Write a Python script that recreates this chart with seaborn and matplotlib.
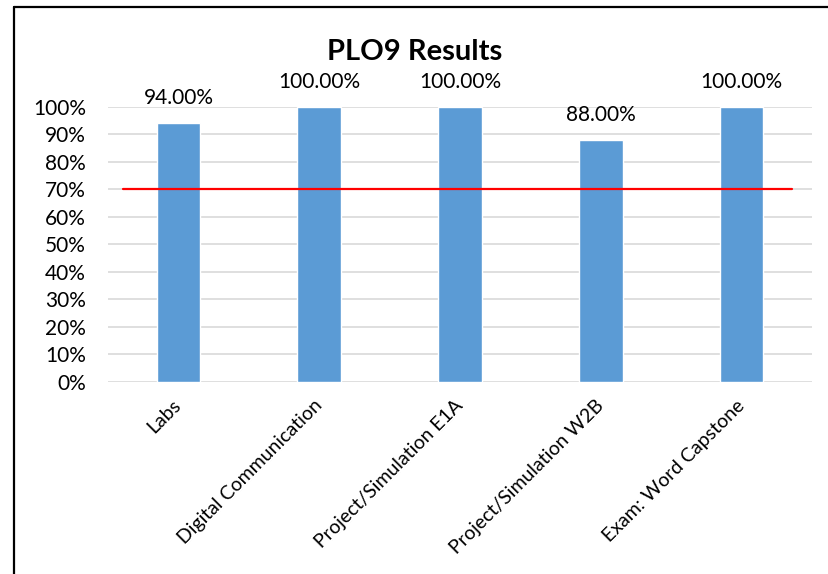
import matplotlib
matplotlib.use("Agg")
import matplotlib.pyplot as plt
import seaborn as sns
import pandas as pd
from matplotlib.lines import Line2D
from matplotlib.ticker import FuncFormatter, MultipleLocator

categories = ["Labs", "Digital Communication", "Project/Simulation E1A",
              "Project/Simulation W2B", "Exam: Word Capstone"]
values = [0.94, 1.00, 1.00, 0.88, 1.00]
target = 0.70
title = "PLO9 Results"

sns.set_theme(style="white")
plt.rcParams['font.family'] = ['Lato', 'DejaVu Sans']

df = pd.DataFrame({"cat": categories, "val": values})

fig = plt.figure(figsize=(8.29, 5.74), dpi=100)
ax = fig.add_axes([0.1303, 0.3345, 0.8492, 0.4791])

sns.barplot(data=df, x="cat", y="val", color="#5B9BD5", width=0.31,
            saturation=1, ax=ax, zorder=3)

ax.set_ylim(0, 1.0)
ax.set_xlim(-0.5, len(categories) - 0.5)
ax.yaxis.set_major_locator(MultipleLocator(0.1))
ax.yaxis.set_major_formatter(FuncFormatter(lambda v, p: f"{v*100:.0f}%"))
ax.grid(axis="y", color="#D9D9D9", linewidth=1.2, zorder=0)
ax.set_axisbelow(True)
for s in ax.spines.values():
    s.set_visible(False)
ax.tick_params(axis="both", length=0, labelsize=15, colors="black")
ax.tick_params(axis="y", pad=16)
ax.set_xlabel("")
ax.set_ylabel("")

plt.setp(ax.get_xticklabels(), rotation=45, ha="right", va="center",
         rotation_mode="anchor", fontsize=14)
ax.tick_params(axis="x", pad=15)

# value labels
for p, v in zip(ax.patches, values):
    ax.annotate(f"{v*100:.2f}%", (p.get_x() + p.get_width() / 2, p.get_height()),
                xytext=(0, 11), textcoords="offset points", ha="center",
                va="bottom", fontsize=15, color="black", annotation_clip=False)

# target line
ax.plot([-0.393, 4.358], [target, target], color="#FF0000", linewidth=1.6,
        zorder=4)

fig.text(0.5, 0.91, title, ha="center", va="center", fontsize=21,
         fontweight="bold", color="black")

# chart border (top and left)
fig.add_artist(Line2D([14 / 829, 1.0], [1 - 7 / 574, 1 - 7 / 574],
                      color="black", linewidth=1.6, transform=fig.transFigure))
fig.add_artist(Line2D([14 / 829, 14 / 829], [0, 1 - 7 / 574],
                      color="black", linewidth=1.6, transform=fig.transFigure))

fig.savefig("out.png", dpi=100, facecolor="white")
